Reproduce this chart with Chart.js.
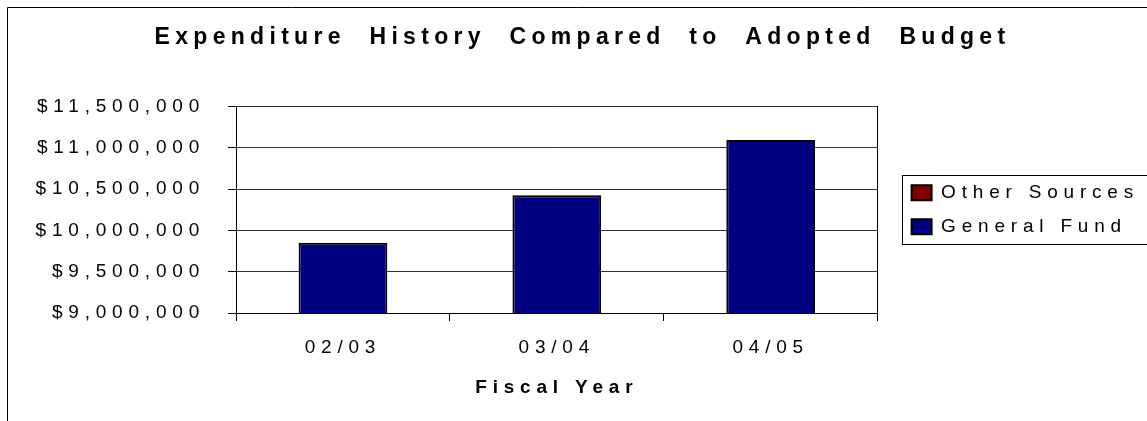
<!DOCTYPE html>
<html>
<head>
<meta charset="utf-8">
<title>Expenditure History</title>
<script src="https://cdn.jsdelivr.net/npm/chart.js@4.4.0/dist/chart.umd.min.js"></script>
<style>
  html, body { margin: 0; padding: 0; background: #fff; }
  #wrap { width: 1147px; height: 421px; }
</style>
</head>
<body>
<div id="wrap"><canvas id="budgetChart" width="1147" height="421"></canvas></div>
<script>
const fiscalYears = ["02/03", "03/04", "04/05"];
const generalFund = [9850000, 10425000, 11095000];
const otherSources = [0, 0, 0];
const yMin = 9000000;
const yMax = 11500000;
const yStep = 500000;

const FONT = "'Liberation Sans', Arial, sans-serif";
const money = v => "$" + Number(v).toLocaleString("en-US");

// old spreadsheet look: wide letter spacing, picked by the font size in use
function spaceLetters(ctx) {
  const spacingFor = () => {
    const m = /(\d+(?:\.\d+)?)px/.exec(ctx.font);
    const size = m ? parseFloat(m[1]) : 12;
    return size >= 22 ? { ls: 5.3, ws: 12 } : { ls: 5.8, ws: 0 };
  };
  const fill = ctx.fillText;
  const measure = ctx.measureText;

  // does this browser already count letterSpacing in measureText?
  ctx.letterSpacing = "0px";
  const plain = measure.call(ctx, "abcd").width;
  ctx.letterSpacing = "10px";
  const counted = measure.call(ctx, "abcd").width - plain > 20;
  ctx.letterSpacing = "0px";

  ctx.fillText = function () {
    const s = spacingFor();
    ctx.letterSpacing = s.ls + "px";
    ctx.wordSpacing = s.ws + "px";
    return fill.apply(ctx, arguments);
  };
  ctx.measureText = function (text) {
    const s = spacingFor();
    ctx.letterSpacing = s.ls + "px";
    ctx.wordSpacing = s.ws + "px";
    const m = measure.call(ctx, text);
    if (counted) return m;
    const str = String(text);
    const extra = s.ls * str.length + s.ws * (str.split(" ").length - 1);
    return {
      width: m.width + extra,
      actualBoundingBoxLeft: m.actualBoundingBoxLeft,
      actualBoundingBoxRight: m.actualBoundingBoxRight + extra,
      actualBoundingBoxAscent: m.actualBoundingBoxAscent,
      actualBoundingBoxDescent: m.actualBoundingBoxDescent
    };
  };
}

// outer chart border plus the box around the legend
const chartFrame = {
  id: "chartFrame",
  beforeDraw(chart) {
    const ctx = chart.ctx;
    ctx.save();
    ctx.fillStyle = "#fff";
    ctx.fillRect(0, 0, chart.width, chart.height);
    ctx.strokeStyle = "#000";
    ctx.lineWidth = 1;
    ctx.beginPath();
    ctx.moveTo(7.5, chart.height);
    ctx.lineTo(7.5, 7.5);
    ctx.lineTo(chart.width, 7.5);
    ctx.stroke();
    ctx.restore();
  },
  afterDraw(chart) {
    const boxes = chart.legend && chart.legend.legendHitBoxes;
    if (!boxes || !boxes.length) return;
    const left = Math.min(...boxes.map(b => b.left)) - 10;
    const right = Math.max(...boxes.map(b => b.left + b.width)) + 8;
    const top = Math.min(...boxes.map(b => b.top)) - 8;
    const bottom = Math.max(...boxes.map(b => b.top + b.height)) + 8;
    const ctx = chart.ctx;
    ctx.save();
    ctx.strokeStyle = "#000";
    ctx.lineWidth = 1;
    ctx.strokeRect(Math.round(left) + 0.5, Math.round(top) + 0.5,
      Math.round(right - left), Math.round(bottom - top));
    ctx.restore();
  }
};

const canvas = document.getElementById("budgetChart");
spaceLetters(canvas.getContext("2d"));

new Chart(canvas, {
  type: "bar",
  data: {
    labels: fiscalYears,
    datasets: [
      {
        label: "General Fund",
        data: generalFund,
        backgroundColor: "#000080",
        borderColor: "#000",
        borderWidth: 2,
        borderSkipped: false,
        barPercentage: 0.415,
        categoryPercentage: 1
      },
      {
        label: "Other Sources",
        data: otherSources,
        backgroundColor: "#800000",
        borderColor: "#000",
        borderWidth: 0,
        barPercentage: 0.415,
        categoryPercentage: 1
      }
    ]
  },
  options: {
    responsive: false,
    animation: false,
    layout: { padding: { left: 16, top: 0, right: -2, bottom: 0 } },
    plugins: {
      title: {
        display: true,
        text: "Expenditure History Compared to Adopted Budget",
        color: "#000",
        font: { family: FONT, size: 23, weight: "bold" },
        padding: { top: 24, bottom: 55 }
      },
      legend: {
        position: "right",
        fullSize: false,
        reverse: true,
        maxWidth: 400,
        labels: {
          boxWidth: 20,
          boxHeight: 15,
          padding: 15,
          color: "#000",
          font: { family: FONT, size: 19 },
          generateLabels: chart =>
            Chart.defaults.plugins.legend.labels.generateLabels(chart).map(item => ({
              ...item,
              lineWidth: 2,
              strokeStyle: "#000"
            }))
        }
      },
      tooltip: { enabled: false }
    },
    scales: {
      x: {
        stacked: true,
        grid: { drawOnChartArea: false, tickLength: 8, color: "#000", offset: true },
        border: { color: "#000" },
        ticks: { color: "#000", padding: 15, font: { family: FONT, size: 19 } },
        title: {
          display: true,
          text: "Fiscal Year",
          color: "#000",
          font: { family: FONT, size: 19, weight: "bold" },
          padding: { top: 0, bottom: 22 }
        },
        afterFit: scale => { scale.height = 108; }
      },
      y: {
        stacked: true,
        min: yMin,
        max: yMax,
        ticks: {
          stepSize: yStep,
          color: "#000",
          padding: 23,
          font: { family: FONT, size: 19 },
          callback: value => money(value)
        },
        grid: { color: "#333", tickLength: 8, tickColor: "#000" },
        border: { color: "#000" },
        afterFit: scale => { scale.width = 220; }
      },
      // thin empty axis: right edge of the plot and the gap before the legend
      y2: {
        type: "linear",
        position: "right",
        grid: { display: false },
        border: { display: true, color: "#000" },
        ticks: { display: false },
        afterFit: scale => { scale.width = 19; }
      }
    }
  },
  plugins: [chartFrame]
});
</script>
</body>
</html>
